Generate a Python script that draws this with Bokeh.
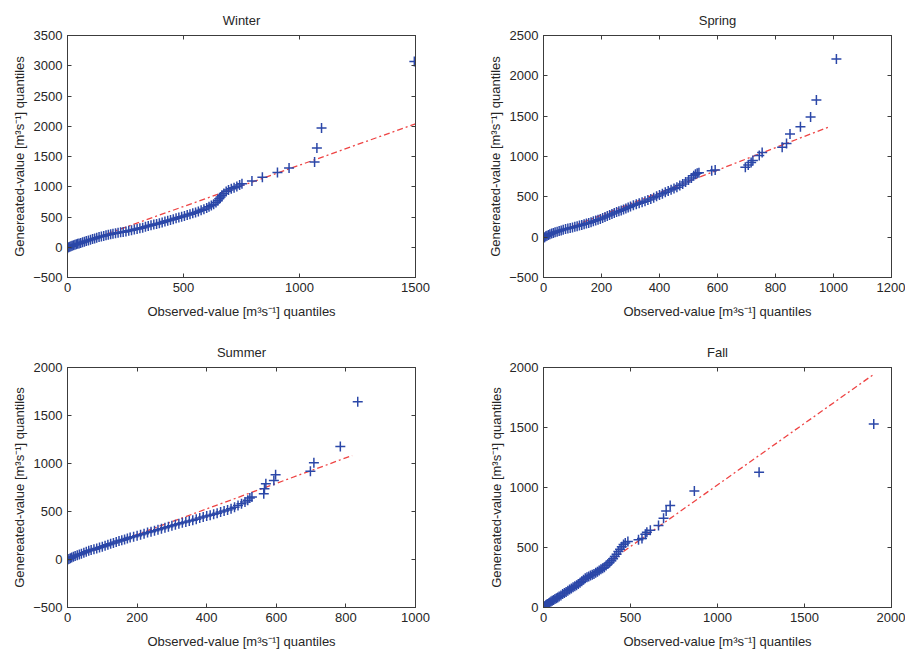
from bokeh.plotting import figure
from bokeh.layouts import column, row
from bokeh.models import LinearAxis, FixedTicker, CustomJSTickFormatter, Title, Range1d
from bokeh.embed import file_html
from bokeh.resources import INLINE

# ---------------- data ----------------
winter_obs = [0, 5, 10, 15, 20, 26, 32, 38, 44, 50, 57, 65, 73, 81, 90, 99, 108, 117, 126, 136,
              146, 156, 166, 176, 186, 196, 207, 218, 229, 240, 252, 264, 276, 288, 300, 312, 324,
              336, 348, 360, 372, 384, 396, 408, 420, 432, 444, 456, 468, 480, 492, 504, 516, 528,
              540, 552, 564, 576, 588, 600, 610, 620, 630, 640, 648, 654, 660, 666, 674, 684, 694,
              706, 718, 730, 742, 752, 795, 840, 905, 955, 1065, 1075, 1095, 1495]
winter_gen = [-15, 2, 10, 18, 26, 34, 42, 50, 58, 64, 72, 82, 92, 102, 112, 124, 136, 146, 158, 168,
              178, 188, 198, 206, 214, 222, 230, 238, 246, 254, 262, 272, 282, 292, 302, 312, 324,
              338, 350, 362, 374, 386, 398, 410, 424, 436, 450, 464, 478, 492, 504, 518, 532, 546,
              560, 576, 592, 610, 628, 648, 668, 690, 712, 740, 770, 800, 830, 860, 890, 920, 945,
              965, 985, 1005, 1030, 1050, 1095, 1155, 1235, 1310, 1410, 1640, 1970, 3070]
winter_line_x = [0, 1500]
winter_line_y = [-10, 2040]

spring_obs = [0, 4, 8, 12, 17, 22, 28, 34, 40, 47, 54, 61, 68, 76, 84, 92, 100, 108, 116, 124, 132,
              140, 148, 156, 164, 172, 180, 188, 196, 204, 212, 220, 228, 236, 244, 252, 260, 268,
              276, 284, 292, 300, 310, 320, 330, 340, 350, 360, 370, 380, 390, 400, 410, 420, 430,
              440, 450, 460, 470, 480, 490, 500, 510, 518, 524, 530, 536, 580, 592, 696, 706, 716,
              722, 744, 754, 823, 838, 850, 886, 921, 941, 1010]
spring_gen = [-10, 0, 10, 18, 28, 36, 44, 52, 60, 68, 76, 84, 92, 100, 108, 114, 120, 128, 136, 144,
              152, 160, 168, 176, 186, 196, 206, 216, 226, 238, 250, 262, 275, 288, 300, 312, 322,
              332, 344, 356, 368, 380, 395, 408, 420, 432, 446, 460, 474, 490, 506, 522, 538, 556,
              572, 588, 604, 620, 640, 660, 684, 708, 734, 760, 780, 792, 800, 822, 832, 868, 895,
              925, 950, 1012, 1050, 1115, 1160, 1280, 1370, 1490, 1700, 2210]
spring_line_x = [0, 990]
spring_line_y = [-5, 1375]

summer_obs = [0, 4, 8, 12, 17, 22, 28, 34, 40, 47, 54, 61, 68, 76, 84, 92, 100, 108, 116, 124, 132,
              140, 148, 156, 164, 172, 180, 190, 200, 210, 220, 230, 240, 250, 260, 270, 280, 290,
              300, 310, 320, 330, 340, 350, 360, 370, 380, 390, 400, 410, 420, 430, 440, 450, 460,
              470, 480, 490, 500, 510, 518, 524, 530, 564, 566, 570, 593, 598, 698, 708, 784, 834]
summer_gen = [-5, 5, 12, 20, 28, 36, 44, 52, 60, 70, 80, 90, 98, 106, 114, 124, 134, 144, 154, 164,
              172, 182, 192, 200, 208, 218, 228, 238, 248, 258, 268, 280, 290, 300, 310, 320, 330,
              342, 352, 362, 372, 382, 390, 400, 410, 420, 432, 442, 452, 462, 472, 482, 494, 504,
              516, 528, 544, 562, 580, 600, 618, 640, 650, 684, 736, 788, 823, 882, 920, 1007, 1177,
              1642]
summer_line_x = [0, 818]
summer_line_y = [-5, 1083]

fall_obs = [0, 4, 8, 13, 18, 24, 30, 36, 43, 50, 58, 66, 74, 82, 90, 100, 110, 120, 130, 140, 150,
            160, 170, 180, 190, 200, 210, 220, 230, 240, 250, 260, 270, 280, 290, 300, 310, 320,
            330, 340, 350, 360, 370, 380, 390, 400, 410, 420, 430, 440, 450, 460, 470, 485, 546,
            566, 585, 594, 614, 661, 690, 705, 728, 867, 1239, 1898]
fall_gen = [-5, 5, 12, 18, 24, 30, 36, 42, 50, 56, 62, 70, 78, 84, 92, 100, 112, 120, 130, 140, 150,
            158, 168, 178, 186, 196, 206, 218, 232, 244, 252, 258, 266, 272, 280, 290, 298, 308,
            318, 328, 336, 350, 362, 376, 390, 406, 424, 444, 466, 486, 506, 524, 538, 550, 564,
            576, 610, 628, 643, 683, 744, 805, 850, 970, 1127, 1529]
fall_line_x = [0, 1895]
fall_line_y = [-5, 1940]

titles = ["Winter", "Spring", "Summer", "Fall"]
x_label = "Observed-value [m³s⁻¹] quantiles"
y_label = "Genereated-value [m³s⁻¹] quantiles"

winter_xticks = [0, 500, 1000, 1500]
winter_yticks = [-500, 0, 500, 1000, 1500, 2000, 2500, 3000, 3500]
spring_xticks = [0, 200, 400, 600, 800, 1000, 1200]
spring_yticks = [-500, 0, 500, 1000, 1500, 2000, 2500]
summer_xticks = [0, 200, 400, 600, 800, 1000]
summer_yticks = [-500, 0, 500, 1000, 1500, 2000]
fall_xticks = [0, 500, 1000, 1500, 2000]
fall_yticks = [0, 500, 1000, 1500, 2000]

# ---------------- style ----------------
FONT = "Liberation Sans"
TXT = "#262626"
AX = "#3c3c3c"
BLUE = "#2b47a8"
RED = "#ee4444"


def style_axis(ax, ticks, show_labels=True):
    ax.ticker = FixedTicker(ticks=ticks)
    ax.major_tick_in = 4
    ax.major_tick_out = 0
    ax.minor_tick_line_color = None
    ax.axis_line_color = AX
    ax.major_tick_line_color = AX
    ax.major_label_text_font = FONT
    ax.major_label_text_font_size = "13px"
    ax.major_label_text_color = TXT
    ax.axis_label_text_font = FONT
    ax.axis_label_text_font_size = "13px"
    ax.axis_label_text_font_style = "normal"
    ax.axis_label_text_color = TXT
    if not show_labels:
        ax.formatter = CustomJSTickFormatter(code="return ''")
        ax.major_label_standoff = 0


def panel(title, xs, ys, lx, ly, xr, yr, xt, yt, w, h, bl, br, bt, bb):
    p = figure(width=w, height=h, x_range=Range1d(*xr), y_range=Range1d(*yr),
               output_backend="svg", toolbar_location=None, title=None,
               min_border_left=bl, min_border_right=br, min_border_top=bt, min_border_bottom=bb,
               x_axis_label=x_label, y_axis_label=y_label)
    p.grid.visible = False
    p.outline_line_color = AX
    p.background_fill_color = "white"
    p.border_fill_color = "white"
    style_axis(p.xaxis[0], xt)
    style_axis(p.yaxis[0], yt)
    p.xaxis[0].major_label_standoff = 5
    p.xaxis[0].axis_label_standoff = 9
    p.yaxis[0].major_label_standoff = 5
    p.yaxis[0].axis_label_standoff = 3
    top = LinearAxis()
    style_axis(top, xt, show_labels=False)
    p.add_layout(top, "above")
    right = LinearAxis()
    style_axis(right, yt, show_labels=False)
    p.add_layout(right, "right")
    t = Title(text=title, align="center", text_font=FONT, text_font_size="13px",
              text_font_style="normal", text_color=TXT, standoff=16)
    p.add_layout(t, "above")
    p.line(lx, ly, line_color=RED, line_width=1.3, line_dash="6 3 2 3")
    p.scatter(xs, ys, marker="cross", size=10, line_color=BLUE, line_width=1.5)
    return p


p1 = panel(titles[0], winter_obs, winter_gen, winter_line_x, winter_line_y,
           (0, 1500), (-500, 3500), winter_xticks, winter_yticks, 458, 321, 67, 43, 35, 44)
p2 = panel(titles[1], spring_obs, spring_gen, spring_line_x, spring_line_y,
           (0, 1200), (-500, 2500), spring_xticks, spring_yticks, 447, 321, 85, 14, 35, 44)
p3 = panel(titles[2], summer_obs, summer_gen, summer_line_x, summer_line_y,
           (0, 1000), (-500, 2000), summer_xticks, summer_yticks, 458, 330, 67, 43, 46, 44)
p4 = panel(titles[3], fall_obs, fall_gen, fall_line_x, fall_line_y,
           (0, 2000), (0, 2000), fall_xticks, fall_yticks, 447, 330, 85, 14, 46, 44)

layout = column(row(p1, p2), row(p3, p4))
open("out.html", "w").write(file_html(layout, INLINE))
